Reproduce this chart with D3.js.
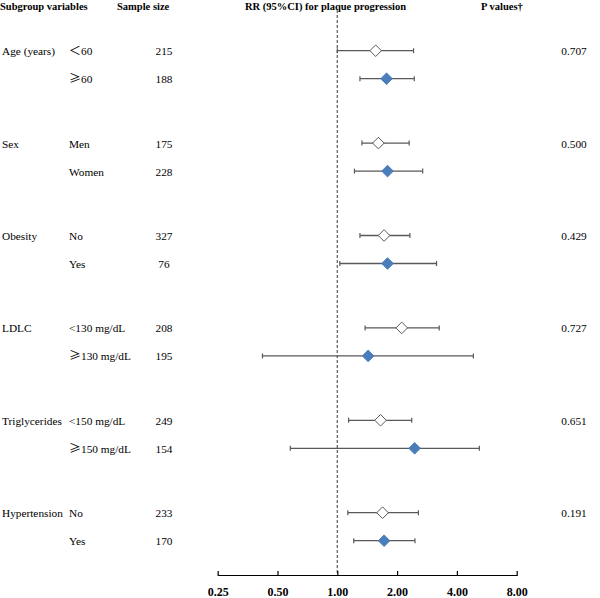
<!DOCTYPE html>
<html>
<head>
<meta charset="utf-8">
<script src="https://cdn.jsdelivr.net/npm/d3@7"></script>
<style>
  html, body { margin: 0; padding: 0; background: #fff; }
  svg { display: block; }
  text { font-family: "Liberation Serif", "Times New Roman", serif; fill: #000; }
</style>
</head>
<body>
<svg id="chart" width="600" height="598"></svg>
<script>
// ---- data ----
const groups = ["Age (years)", "Sex", "Obesity", "LDLC", "Triglycerides", "Hypertension"];
const pValues = ["0.707", "0.500", "0.429", "0.727", "0.651", "0.191"];
const subgroups = ["＜60", "≥60", "Men", "Women", "No", "Yes", "<130 mg/dL", "≥130 mg/dL", "<150 mg/dL", "≥150 mg/dL", "No", "Yes"];
const groupIndex = [0, 0, 1, 1, 2, 2, 3, 3, 4, 4, 5, 5];
const subIndex = [0, 1, 0, 1, 0, 1, 0, 1, 0, 1, 0, 1];
const sampleSizes = [215, 188, 175, 228, 327, 76, 208, 195, 249, 154, 233, 170];
const rr     = [1.56, 1.77, 1.61, 1.79, 1.72, 1.79, 2.11, 1.43, 1.65, 2.45, 1.69, 1.72];
const ciLow  = [1.00, 1.30, 1.33, 1.22, 1.30, 1.03, 1.38, 0.42, 1.14, 0.58, 1.13, 1.21];
const ciHigh = [2.42, 2.44, 2.30, 2.69, 2.32, 3.16, 3.26, 4.84, 2.37, 5.19, 2.56, 2.46];
const tickValues = [0.25, 0.5, 1, 2, 4, 8];
const tickLabels = ["0.25", "0.50", "1.00", "2.00", "4.00", "8.00"];
const headers = ["Subgroup variables", "Sample size", "RR (95%CI) for plaque progression", "P values†"];

// ---- layout ----
const svg = d3.select("#chart");
const x = d3.scaleLog().base(2).domain([0.25, 8]).range([217.7, 516.7]);
const yGroup = d3.scaleLinear().domain([0, groups.length - 1]).range([50.7, 512.7]);
const ySub = d3.scaleLinear().domain([0, 1]).range([0, 28]);
const axisY = 575;
const lineColor = "#595959";
const blue = "#4A7EBB";

const rows = subgroups.map((s, i) => ({
  label: s, g: groupIndex[i], s: subIndex[i], n: sampleSizes[i],
  rr: rr[i], lo: ciLow[i], hi: ciHigh[i],
  y: yGroup(groupIndex[i]) + ySub(subIndex[i])
}));

// headers
const headerX = [0, 117, 245, 481];
svg.append("g").selectAll("text").data(headers).join("text")
  .attr("x", (d, i) => headerX[i]).attr("y", 9.5)
  .attr("font-size", "10.5px").attr("font-weight", "bold")
  .text(d => d);

// reference dashed line at RR = 1
svg.append("line")
  .attr("x1", x(1)).attr("x2", x(1)).attr("y1", 10).attr("y2", axisY)
  .attr("stroke", "#666").attr("stroke-width", 1.3).attr("stroke-dasharray", "3,2");

// group labels and p values
svg.append("g").selectAll("text").data(groups).join("text")
  .attr("x", 2).attr("y", (d, i) => yGroup(i) + 4.5)
  .attr("font-size", "11.3px").text(d => d);
svg.append("g").selectAll("text").data(pValues).join("text")
  .attr("x", 574).attr("y", (d, i) => yGroup(i) + 4.5)
  .attr("text-anchor", "middle")
  .attr("font-size", "11.3px").text(d => d);

// subgroup labels + sample sizes (comparison symbols set in a CJK font)
const subText = svg.append("g").selectAll("text").data(rows).join("text")
  .attr("x", 69).attr("y", d => d.y + 4.5)
  .attr("font-size", "11.3px");
subText.each(function (d) {
  const t = d3.select(this);
  const m = d.label.match(/^([＜≥])(.*)$/);
  if (m) {
    t.append("tspan").style("font-family", "'Noto Sans CJK SC', sans-serif")
      .attr("font-size", "12px").text(m[1]);
    t.append("tspan").text(m[2]);
  } else {
    t.text(d.label);
  }
});
svg.append("g").selectAll("text").data(rows).join("text")
  .attr("x", 164).attr("y", d => d.y + 4.5)
  .attr("text-anchor", "middle")
  .attr("font-size", "11.3px").text(d => d.n);

// CI whiskers
const ci = svg.append("g").selectAll("g").data(rows).join("g");
ci.append("line")
  .attr("x1", d => x(d.lo)).attr("x2", d => x(d.hi))
  .attr("y1", d => d.y).attr("y2", d => d.y)
  .attr("stroke", lineColor).attr("stroke-width", 1.3);
ci.append("line")
  .attr("x1", d => x(d.lo)).attr("x2", d => x(d.lo))
  .attr("y1", d => d.y - 2.5).attr("y2", d => d.y + 2.5)
  .attr("stroke", lineColor).attr("stroke-width", 1.2);
ci.append("line")
  .attr("x1", d => x(d.hi)).attr("x2", d => x(d.hi))
  .attr("y1", d => d.y - 2.5).attr("y2", d => d.y + 2.5)
  .attr("stroke", lineColor).attr("stroke-width", 1.2);

// diamonds
const r = 5.8;
const diamond = `M0,${-r}L${r},0L0,${r}L${-r},0Z`;
svg.append("g").selectAll("path").data(rows).join("path")
  .attr("d", diamond)
  .attr("transform", d => `translate(${x(d.rr)},${d.y})`)
  .attr("fill", d => d.s === 0 ? "#fff" : blue)
  .attr("stroke", d => d.s === 0 ? lineColor : blue)
  .attr("stroke-width", 1);

// axis
const axis = d3.axisBottom(x).tickValues(tickValues)
  .tickFormat((d, i) => tickLabels[i])
  .tickSizeInner(-4).tickSizeOuter(0).tickPadding(12);
const ax = svg.append("g").attr("transform", `translate(0,${axisY})`).call(axis);
ax.select(".domain").attr("stroke", "#000").attr("stroke-width", 1.2);
ax.selectAll(".tick line").attr("stroke", "#000").attr("stroke-width", 1.2).attr("y2", -4).attr("y1", 1);
ax.selectAll(".tick text")
  .attr("font-family", "'Liberation Serif', serif")
  .attr("font-size", "12px").attr("font-weight", "bold").attr("fill", "#000");
</script>
</body>
</html>
